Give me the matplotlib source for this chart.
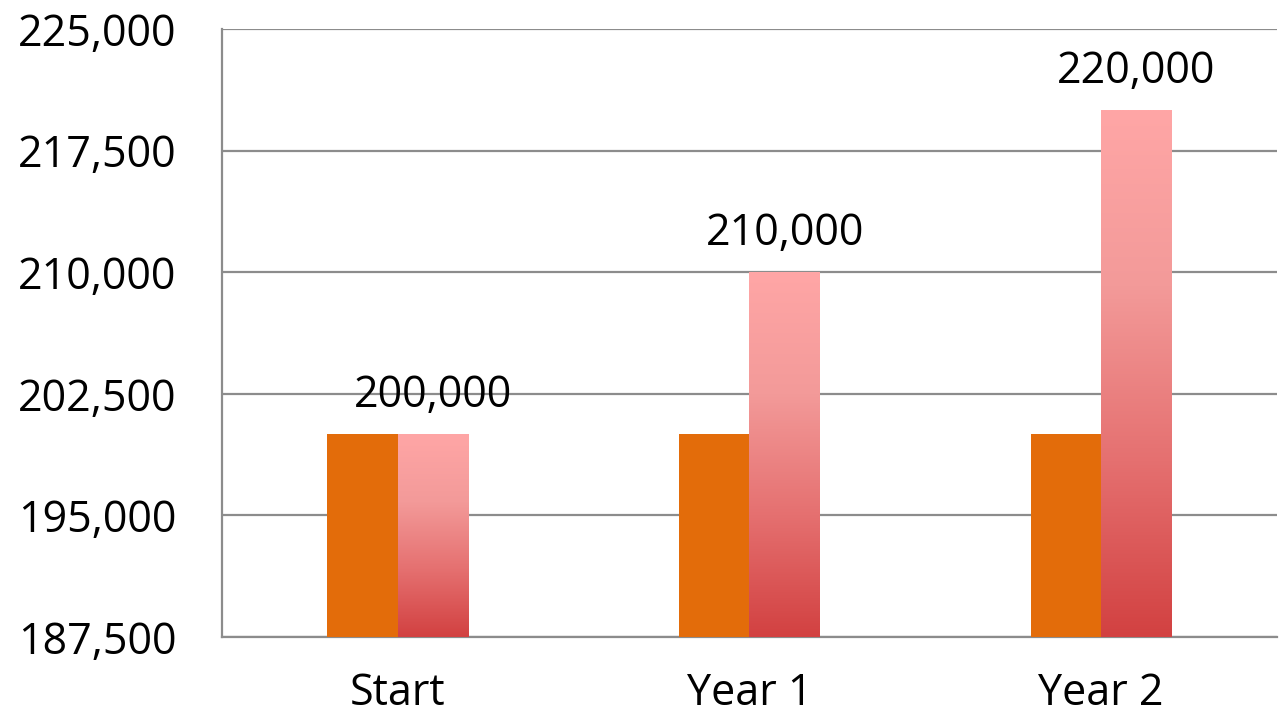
import numpy as np
import matplotlib.pyplot as plt
from matplotlib.colors import LinearSegmentedColormap

# data
categories = ['Start', 'Year 1', 'Year 2']
base_values = [200000, 200000, 200000]
growth_values = [200000, 210000, 220000]
y_ticks = [187500, 195000, 202500, 210000, 217500, 225000]

plt.rcParams['font.family'] = ['Open Sans', 'DejaVu Sans']

fig = plt.figure(figsize=(12.86, 7.2), dpi=100)
ax = fig.add_axes([0.1726, 0.1153, 0.8204, 0.8444])

x = np.arange(len(categories))
w = 0.2
ymin, ymax = 187500, 225000

# gridlines
for t in y_ticks:
    ax.axhline(t, color='#8c8c8c', lw=1.6, zorder=1)

# solid orange bars
ax.bar(x - w / 2, [v - ymin for v in base_values], w, bottom=ymin,
       color='#e36c0a', zorder=3)

# gradient bars, light at top, dark at bottom of each bar
grad_cmap = LinearSegmentedColormap.from_list('pinkred', ['#d24141', '#e57070', '#f39a99', '#ffa6a6'])
grad = np.linspace(0, 1, 256).reshape(-1, 1)
for xi, v in zip(x, growth_values):
    ax.imshow(grad, cmap=grad_cmap, origin='lower', aspect='auto',
              extent=(xi, xi + w, ymin, v), zorder=3, interpolation='bilinear')
    ax.text(xi + w / 2, v + 1000, f'{v:,}', ha='center', va='bottom',
            fontsize=31, color='black', zorder=4)

ax.set_xlim(-0.5, len(categories) - 0.5)
ax.set_ylim(ymin, ymax)
ax.set_yticks(y_ticks)
ax.set_yticklabels([f'{t:,}' for t in y_ticks])
ax.set_xticks(x)
ax.set_xticklabels(categories)
ax.tick_params(axis='y', length=0, pad=33, labelsize=31)
ax.tick_params(axis='x', length=0, pad=25, labelsize=31)

for s in ['top', 'right']:
    ax.spines[s].set_visible(False)
for s in ['left', 'bottom']:
    ax.spines[s].set_color('#8c8c8c')
    ax.spines[s].set_linewidth(1.6)
    ax.spines[s].set_zorder(2)

fig.savefig('out.png', dpi=100)
